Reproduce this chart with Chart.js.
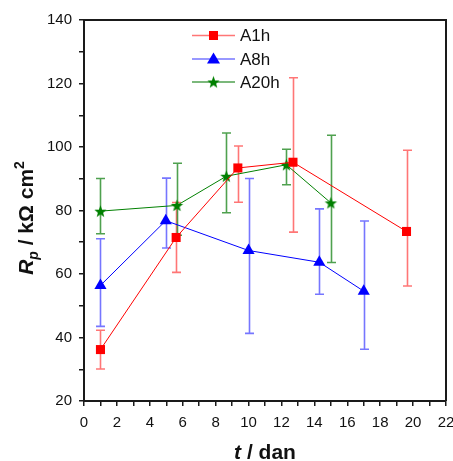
<!DOCTYPE html>
<html><head><meta charset="utf-8">
<script src="https://cdn.jsdelivr.net/npm/chart.js@4/dist/chart.umd.min.js"></script>
<style>html,body{margin:0;padding:0;background:#fff}#wrap{width:453px;height:461px;position:relative}</style>
</head><body><div id="wrap"><canvas id="c" width="453" height="461"></canvas></div>
<script>
// ---- data ----
const seriesNames = ['A1h', 'A8h', 'A20h'];
const a1hX = [1, 5.6, 9.35, 12.7, 19.6];
const a1hY = [36.2, 71.5, 93.4, 95.2, 73.4];
const a1hErrHi = [42.3, 82.5, 100.3, 121.8, 99.0];
const a1hErrLo = [30.1, 60.5, 82.6, 73.2, 56.2];
const a8hX = [1, 4.97, 10, 14.3, 17];
const a8hY = [56.4, 76.8, 67.4, 63.7, 54.6];
const a8hErrHi = [71.1, 90.2, 90.1, 80.5, 76.7];
const a8hErrLo = [43.5, 68.2, 41.3, 53.6, 36.3];
const a20hX = [1, 5.65, 8.65, 12.3, 15];
const a20hY = [79.8, 81.6, 90.8, 94.4, 82.4];
const a20hErrHi = [90.1, 94.9, 104.4, 99.3, 103.7];
const a20hErrLo = [72.7, 72.2, 79.3, 88.1, 63.6];
const xTickLabels = [0, 2, 4, 6, 8, 10, 12, 14, 16, 18, 20, 22];
const yTickLabels = [20, 40, 60, 80, 100, 120, 140];
const xTitleParts = ['t', ' / dan'];
const yTitleParts = ['R', 'p', ' / kΩ cm', '2'];

// ---- styling ----
const AX = '#1a1a1a';
const FONT = '"Liberation Sans", Arial, sans-serif';

function starImage(color, R) {
  const s = Math.ceil(R * 2 + 2);
  const cv = document.createElement('canvas');
  cv.width = s; cv.height = s;
  const g = cv.getContext('2d');
  const cx = s / 2, cy = s / 2 + 0.6, r = R * 0.42;
  g.beginPath();
  for (let i = 0; i < 10; i++) {
    const a = -Math.PI / 2 + i * Math.PI / 5;
    const rr = i % 2 === 0 ? R : r;
    g.lineTo(cx + rr * Math.cos(a), cy + rr * Math.sin(a));
  }
  g.closePath();
  g.fillStyle = color; g.fill();
  return cv;
}
const starPt = starImage('#008000', 6.5);

const zip = (xs, ys) => xs.map((x, i) => ({ x, y: ys[i] }));

const seriesStyle = [
  { color: '#ff0000', err: 'rgba(255,60,60,0.7)', style: 'rect', radius: 6.4, hi: a1hErrHi, lo: a1hErrLo },
  { color: '#0000ff', err: 'rgba(60,60,255,0.7)', style: 'triangle', radius: 7, hi: a8hErrHi, lo: a8hErrLo },
  { color: '#008000', err: 'rgba(20,130,20,0.75)', style: starPt, radius: 7, hi: a20hErrHi, lo: a20hErrLo }
];
const seriesData = [zip(a1hX, a1hY), zip(a8hX, a8hY), zip(a20hX, a20hY)];

const datasets = seriesNames.map((n, i) => ({
  label: n,
  data: seriesData[i],
  showLine: true,
  borderColor: seriesStyle[i].color,
  backgroundColor: seriesStyle[i].color,
  borderWidth: 1,
  pointStyle: seriesStyle[i].style,
  pointRadius: seriesStyle[i].radius,
  pointBorderWidth: 0,
  pointBackgroundColor: seriesStyle[i].color,
  pointBorderColor: seriesStyle[i].color,
  tension: 0
}));

const errorBars = {
  id: 'errorBars',
  beforeDatasetsDraw(chart) {
    const { ctx, scales: { x, y } } = chart;
    ctx.save();
    seriesData.forEach((pts, i) => {
      const st = seriesStyle[i];
      ctx.strokeStyle = st.err;
      ctx.lineWidth = 1.6;
      pts.forEach((p, j) => {
        const px = Math.round(x.getPixelForValue(p.x)) + 0.5;
        const yh = y.getPixelForValue(st.hi[j]);
        const yl = y.getPixelForValue(st.lo[j]);
        ctx.beginPath();
        ctx.moveTo(px, yh); ctx.lineTo(px, yl);
        ctx.moveTo(px - 4.5, yh); ctx.lineTo(px + 4.5, yh);
        ctx.moveTo(px - 4.5, yl); ctx.lineTo(px + 4.5, yl);
        ctx.stroke();
      });
    });
    ctx.restore();
  }
};

const frameAndText = {
  id: 'frameAndText',
  afterDraw(chart) {
    const { ctx, chartArea: a } = chart;
    ctx.save();
    // frame top & right
    ctx.strokeStyle = AX; ctx.lineWidth = 2;
    ctx.beginPath();
    ctx.moveTo(a.left, a.top); ctx.lineTo(a.right, a.top); ctx.lineTo(a.right, a.bottom);
    ctx.stroke();

    // legend
    const lx0 = 192, lx1 = 235, tx = 240;
    const rows = [35.5, 59, 82];
    ctx.font = '17px ' + FONT;
    ctx.textBaseline = 'middle';
    seriesNames.forEach((n, i) => {
      const st = seriesStyle[i];
      const yy = rows[i];
      ctx.strokeStyle = st.err; ctx.lineWidth = 1.3;
      ctx.beginPath(); ctx.moveTo(lx0, yy); ctx.lineTo(lx1, yy); ctx.stroke();
      const cx = (lx0 + lx1) / 2;
      ctx.fillStyle = st.color;
      if (i === 0) {
        ctx.fillRect(cx - 4.5, yy - 4.5, 9, 9);
      } else if (i === 1) {
        ctx.beginPath();
        ctx.moveTo(cx, yy - 6.5); ctx.lineTo(cx + 6.5, yy + 4.5); ctx.lineTo(cx - 6.5, yy + 4.5);
        ctx.closePath(); ctx.fill();
      } else {
        ctx.drawImage(starPt, cx - starPt.width / 2, yy - starPt.height / 2);
      }
      ctx.fillStyle = '#111';
      ctx.fillText(n, tx, yy + 1);
    });

    // x title
    ctx.fillStyle = '#111';
    ctx.textBaseline = 'alphabetic';
    const f1 = 'italic bold 21px ' + FONT, f2 = 'bold 21px ' + FONT;
    ctx.font = f1; const w1 = ctx.measureText(xTitleParts[0]).width;
    ctx.font = f2; const w2 = ctx.measureText(xTitleParts[1]).width;
    let sx = (a.left + a.right) / 2 - (w1 + w2) / 2;
    const by = 459;
    ctx.font = f1; ctx.fillText(xTitleParts[0], sx, by);
    ctx.font = f2; ctx.fillText(xTitleParts[1], sx + w1, by);

    // y title (rotated)
    const parts = [
      { t: yTitleParts[0], f: 'italic bold 21px ' + FONT, dy: 0 },
      { t: yTitleParts[1], f: 'italic bold 14px ' + FONT, dy: 5 },
      { t: yTitleParts[2], f: 'bold 21px ' + FONT, dy: 0 },
      { t: yTitleParts[3], f: 'bold 14px ' + FONT, dy: -9 }
    ];
    let tw = 0;
    parts.forEach(p => { ctx.font = p.f; p.w = ctx.measureText(p.t).width; tw += p.w; });
    ctx.translate(33, 218);
    ctx.rotate(-Math.PI / 2);
    let px = -tw / 2;
    parts.forEach(p => { ctx.font = p.f; ctx.fillText(p.t, px, p.dy); px += p.w; });
    ctx.restore();
  }
};

new Chart(document.getElementById('c'), {
  type: 'scatter',
  data: { datasets },
  options: {
    responsive: false,
    animation: false,
    devicePixelRatio: 1,
    layout: { padding: { top: 20, right: 7, left: 0, bottom: 0 } },
    plugins: { legend: { display: false }, tooltip: { enabled: false } },
    scales: {
      x: {
        type: 'linear', min: 0, max: 22,
        afterFit(s) { s.height = 60; s.paddingLeft = 0; s.paddingRight = 0; },
        border: { display: true, color: AX, width: 2 },
        grid: { drawOnChartArea: false, drawTicks: true, tickLength: 5, color: AX, lineWidth: 1.5 },
        ticks: {
          stepSize: 1, autoSkip: false, maxRotation: 0, padding: 8,
          color: '#111', font: { family: FONT, size: 15 },
          callback: v => xTickLabels.includes(v) ? String(v) : ''
        }
      },
      y: {
        type: 'linear', min: 20, max: 140,
        afterFit(s) { s.width = 84; s.paddingTop = 0; s.paddingBottom = 0; },
        border: { display: true, color: AX, width: 2 },
        grid: { drawOnChartArea: false, drawTicks: true, tickLength: 5, color: AX, lineWidth: 1.5 },
        ticks: {
          stepSize: 10, autoSkip: false, padding: 7,
          color: '#111', font: { family: FONT, size: 15 },
          callback: v => yTickLabels.includes(v) ? String(v) : ''
        }
      }
    }
  },
  plugins: [errorBars, frameAndText]
});
</script>
</body></html>
